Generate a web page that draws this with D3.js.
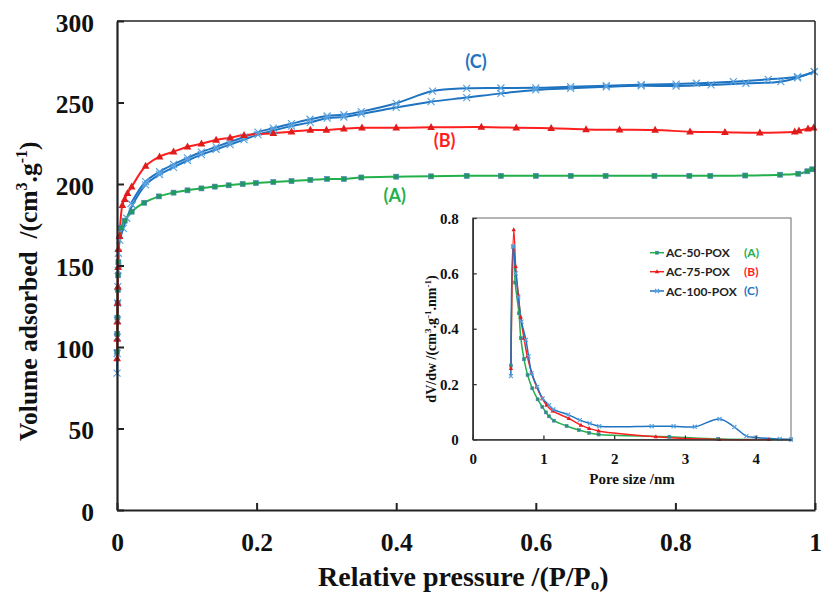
<!DOCTYPE html>
<html>
<head>
<meta charset="utf-8">
<script src="https://cdn.jsdelivr.net/npm/d3@7"></script>
<style>
  html, body { margin: 0; padding: 0; background: #fff; }
  svg { display: block; }
  text { white-space: pre; }
</style>
</head>
<body>
<svg id="chart" width="822" height="594"></svg>
<script>
// ---- Nitrogen isotherms (main panel) ----
const pressA = [0.0002,0.0004,0.0006,0.0009,0.0012,0.0016,0.002,0.0057,0.011,0.021,0.039,0.06,0.081,0.101,0.121,0.14,0.16,0.18,0.199,0.224,0.25,0.277,0.301,0.325,0.35,0.4,0.45,0.501,0.55,0.6,0.65,0.70,0.77,0.82,0.85,0.90,0.95,0.976,0.989,0.996];
const volA   = [97,108,118,127,135,144,152,173,177.5,183,188.5,192.4,194.7,196.1,197.3,198.4,199.2,200,200.6,201.2,201.8,202.5,203.1,203.1,204,204.5,204.7,205,205,205,205,205,205,205,205,205.2,205.7,206.3,207.8,209];

const pressB = [0.0002,0.0004,0.0006,0.0009,0.0012,0.0016,0.002,0.0035,0.0076,0.011,0.015,0.021,0.041,0.061,0.081,0.101,0.121,0.142,0.162,0.182,0.224,0.25,0.277,0.3,0.325,0.351,0.4,0.45,0.522,0.572,0.622,0.672,0.72,0.771,0.821,0.871,0.921,0.971,0.977,0.99,0.998];
const volB   = [93,105,115.5,127,137,149,160,168,187,190.6,194.3,198.3,211,216.8,219.8,222.9,224.7,227,228.4,230,231.1,232.1,233.1,233.1,233.9,234.5,234.5,234.8,235,234.5,234.2,233.5,233.3,233.1,232.1,231.8,231.5,232.1,232.7,233.9,234.5];

// sample C: adsorption branch
const pressC = [0.0001,0.0002,0.0004,0.0006,0.0009,0.0012,0.0016,0.002,0.004,0.009,0.014,0.022,0.041,0.061,0.081,0.101,0.121,0.142,0.162,0.182,0.202,0.224,0.25,0.277,0.301,0.325,0.35,0.4,0.45,0.501,0.55,0.6,0.65,0.701,0.751,0.801,0.851,0.901,0.951,0.975,0.999];
const volC   = [84,96,106,116.5,127,137,147,157.5,165.6,172.8,179,187,199.5,205.8,210.2,214.4,218,221.2,224.2,227.2,230.3,232.8,235.5,237.8,240.4,241.1,243,247,250.5,253,255.6,257.7,258.7,259.6,260.2,260.1,260.8,261.8,262.8,265.2,268.9];
// sample C: desorption branch
const pressCd = [0.02,0.041,0.061,0.081,0.101,0.121,0.142,0.162,0.182,0.202,0.224,0.25,0.2765,0.301,0.325,0.35,0.4,0.452,0.501,0.55,0.6,0.65,0.701,0.751,0.801,0.83,0.883,0.933,0.975,0.999];
const volCd   = [188,201.5,207.5,212,216,219.6,222.8,225.8,228.8,231.8,234.3,237,239.7,241.7,242.5,244.4,249.5,257,258.7,258.9,259,259.7,260.3,260.9,261.3,261.8,262.8,264.2,265.8,268.9];

const mainXTicks = [0,0.2,0.4,0.6,0.8,1];
const mainYTicks = [0,50,100,150,200,250,300];
const curveLabels = ["(A)","(B)","(C)"];

// ---- Pore size distribution (inset) ----
const poreA = [0.54,0.574,0.6,0.654,0.68,0.725,0.776,0.842,0.918,0.984,1.035,1.078,1.148,1.327,1.5,1.647,1.78,2.78,3.47,4.5];
const dvA   = [0.267,0.697,0.567,0.456,0.366,0.29,0.233,0.185,0.145,0.118,0.098,0.084,0.068,0.049,0.034,0.024,0.018,0.01,0.002,0.0];
const poreB = [0.54,0.58,0.607,0.645,0.678,0.725,0.772,0.833,0.904,0.984,1.045,1.13,1.36,1.53,1.647,1.78,2.59,3.49,4.19];
const dvB   = [0.257,0.758,0.625,0.522,0.442,0.366,0.3,0.241,0.19,0.148,0.124,0.103,0.076,0.052,0.04,0.031,0.01,0.0,0.0];
const poreC = [0.54,0.57,0.61,0.645,0.69,0.753,0.79,0.833,0.913,0.988,1.08,1.14,1.35,1.515,1.656,1.788,2.53,2.84,3.14,3.49,3.7,3.87,4.0,4.34,4.5];
const dvC   = [0.229,0.697,0.6,0.516,0.426,0.36,0.3,0.239,0.19,0.148,0.124,0.109,0.09,0.07,0.058,0.048,0.048,0.048,0.046,0.074,0.045,0.012,0.007,0.002,0.0];

const insetXTicks = [0,1,2,3,4];
const insetYTicks = [0,0.2,0.4,0.6,0.8];
const legendNames = ["AC-50-POX","AC-75-POX","AC-100-POX"];

const GREEN = "#22b04b", RED = "#ff1f1f", BLUE = "#1f74c2";
const GREEN_MK = "#1e9a5c", RED_MK = "#e01b1b", BLUE_MK = "#5aa2de";
const SERIF = "'Liberation Serif','Times New Roman',serif";
const SANS = "Lato,'Open Sans',sans-serif";

const svg = d3.select("#chart");

// ---------- main panel ----------
const L = 117, T = 21, R = 815, B = 510;
const x = d3.scaleLinear().domain([0,1]).range([L,R]);
const y = d3.scaleLinear().domain([0,300]).range([B,T]);

const g = svg.append("g");

const zip = (xs, ys) => xs.map((v,i) => [v, ys[i]]);
const lineMain = d3.line().x(d => x(d[0])).y(d => y(d[1])).curve(d3.curveCatmullRom.alpha(0.5));

function drawMarkers(sel, pts, kind, color, sx, sy, s) {
  const gg = sel.append("g");
  pts.forEach(p => {
    const cx = sx(p[0]), cy = sy(p[1]);
    if (kind === "square") {
      gg.append("rect").attr("x", cx - s/2).attr("y", cy - s/2).attr("width", s).attr("height", s)
        .attr("fill", color).attr("stroke", "#4f7fbf").attr("stroke-width", 0.6);
    } else if (kind === "tri") {
      const h = s;
      gg.append("path").attr("d", `M${cx},${cy - h*0.6}L${cx + h*0.55},${cy + h*0.4}L${cx - h*0.55},${cy + h*0.4}Z`)
        .attr("fill", color);
    } else {
      const r = s/2;
      gg.append("path").attr("d", `M${cx-r},${cy-r}L${cx+r},${cy+r}M${cx-r},${cy+r}L${cx+r},${cy-r}`)
        .attr("stroke", color).attr("stroke-width", 1.2).attr("fill", "none");
    }
  });
}

const sets = [
  {pts: zip(pressCd, volCd), color: BLUE, mk: "cross", mc: BLUE_MK, s: 7},
  {pts: zip(pressC, volC), color: BLUE, mk: "cross", mc: BLUE_MK, s: 7},
  {pts: zip(pressA, volA), color: GREEN, mk: "square", mc: GREEN_MK, s: 5},
  {pts: zip(pressB, volB), color: RED, mk: "tri", mc: RED_MK, s: 7},
];
sets.forEach(st => {
  g.append("path").attr("d", lineMain(st.pts)).attr("fill", "none")
    .attr("stroke", st.color).attr("stroke-width", 2);
});
sets.forEach(st => drawMarkers(g, st.pts, st.mk, st.mc, x, y, st.s));

// frame
g.append("line").attr("x1", L).attr("x2", R).attr("y1", T).attr("y2", T).attr("stroke", "#222").attr("stroke-width", 1.5);
g.append("line").attr("x1", R).attr("x2", R).attr("y1", T).attr("y2", B).attr("stroke", "#222").attr("stroke-width", 1.5);

const xAxis = g.append("g").attr("transform", `translate(0,${B})`)
  .call(d3.axisBottom(x).tickValues(mainXTicks).tickSizeInner(-7).tickSizeOuter(0).tickFormat(d3.format("")));
const yAxis = g.append("g").attr("transform", `translate(${L},0)`)
  .call(d3.axisLeft(y).tickValues(mainYTicks).tickSizeInner(-7).tickSizeOuter(0).tickFormat(d3.format("")));
[xAxis, yAxis].forEach(a => {
  a.select(".domain").attr("stroke", "#222").attr("stroke-width", 2.2);
  a.selectAll(".tick line").attr("stroke", "#222").attr("stroke-width", 2);
  a.selectAll(".tick text").attr("font-family", SERIF).attr("font-weight", "bold")
    .attr("font-size", 25.5).attr("fill", "#111");
});
xAxis.selectAll(".tick text").attr("y", 41).attr("dy", 0);
yAxis.selectAll(".tick text").attr("x", -23).attr("dy", 10);

// axis titles
const xt = svg.append("text").attr("x", 318).attr("y", 586)
  .attr("font-family", SERIF).attr("font-weight", "bold").attr("font-size", 28).attr("fill", "#111");
xt.append("tspan").text("Relative pressure /(P/P");
xt.append("tspan").attr("font-size", 17).attr("dy", 4).text("o");
xt.append("tspan").attr("dy", -4).text(")");

const yt = svg.append("text").attr("transform", "translate(37,441) rotate(-90)")
  .attr("font-family", SERIF).attr("font-weight", "bold").attr("font-size", 25.5).attr("fill", "#111");
yt.append("tspan").text("Volume adsorbed  /(cm");
yt.append("tspan").attr("font-size", 16).attr("dy", -10).text("3");
yt.append("tspan").attr("dy", 10).text(".g");
yt.append("tspan").attr("font-size", 16).attr("dy", -10).text("-1");
yt.append("tspan").attr("dy", 10).text(")");

// curve labels
const labelPos = [[394.7,195,GREEN],[444.7,140,RED],[476,61,BLUE]];
curveLabels.forEach((t,i) => {
  svg.append("text").attr("x", labelPos[i][0]).attr("y", labelPos[i][1] + 6.5).attr("text-anchor", "middle")
    .attr("font-family", SANS).attr("font-weight", "bold").attr("font-size", 18)
    .attr("fill", labelPos[i][2]).text(t);
});

// ---------- inset ----------
const iL = 472.7, iR = 791, iT = 218, iB = 439.5;
const ix = d3.scaleLinear().domain([0,4.5]).range([iL,iR]);
const iy = d3.scaleLinear().domain([0,0.8]).range([iB,iT]);
const ig = svg.append("g");

ig.append("rect").attr("x", iL).attr("y", iT).attr("width", iR - iL).attr("height", iB - iT)
  .attr("fill", "#fff").attr("stroke", "#6b6b6b").attr("stroke-width", 1);

const lineIn = d3.line().x(d => ix(d[0])).y(d => iy(d[1])).curve(d3.curveCatmullRom.alpha(0.5));
const isets = [
  {pts: zip(poreA, dvA), color: GREEN, mk: "square", mc: GREEN_MK, s: 3},
  {pts: zip(poreB, dvB), color: RED, mk: "tri", mc: RED_MK, s: 4},
  {pts: zip(poreC, dvC), color: BLUE, mk: "cross", mc: BLUE_MK, s: 4},
];
isets.forEach(st => {
  ig.append("path").attr("d", lineIn(st.pts)).attr("fill", "none")
    .attr("stroke", st.color).attr("stroke-width", 1.5);
});
isets.forEach(st => drawMarkers(ig, st.pts, st.mk, st.mc, ix, iy, st.s));

const ixAxis = ig.append("g").attr("transform", `translate(0,${iB})`)
  .call(d3.axisBottom(ix).tickValues(insetXTicks).tickSizeInner(-4).tickSizeOuter(0).tickFormat(d3.format("")));
const iyAxis = ig.append("g").attr("transform", `translate(${iL},0)`)
  .call(d3.axisLeft(iy).tickValues(insetYTicks).tickSizeInner(-4).tickSizeOuter(0).tickFormat(d => d === 0 ? "0" : d3.format(".1f")(d)));
[ixAxis, iyAxis].forEach(a => {
  a.select(".domain").attr("stroke", "#333").attr("stroke-width", 1.6);
  a.selectAll(".tick line").attr("stroke", "#333").attr("stroke-width", 1.3);
  a.selectAll(".tick text").attr("font-family", SERIF).attr("font-weight", "bold")
    .attr("font-size", 15).attr("fill", "#111");
});
ixAxis.selectAll(".tick text").attr("y", 24).attr("dy", 0);
iyAxis.selectAll(".tick text").attr("x", -14).attr("dy", 5);

svg.append("text").attr("x", 632).attr("y", 484).attr("text-anchor", "middle")
  .attr("font-family", SERIF).attr("font-weight", "bold").attr("font-size", 15).attr("fill", "#111")
  .text("Pore size /nm");

const iyt = svg.append("text").attr("transform", "translate(436,339) rotate(-90)").attr("text-anchor", "middle")
  .attr("font-family", SERIF).attr("font-weight", "bold").attr("font-size", 14).attr("fill", "#111");
iyt.append("tspan").text("dV/dw /(cm");
iyt.append("tspan").attr("font-size", 9).attr("dy", -5).text("3");
iyt.append("tspan").attr("dy", 5).text(".g");
iyt.append("tspan").attr("font-size", 9).attr("dy", -5).text("-1");
iyt.append("tspan").attr("dy", 5).text(".nm");
iyt.append("tspan").attr("font-size", 9).attr("dy", -5).text("-1");
iyt.append("tspan").attr("dy", 5).text(")");

// legend
const legY = [252.7, 271.7, 291];
const legMk = ["square","tri","cross"];
const legMc = [GREEN_MK, RED_MK, BLUE_MK];
const legCol = [GREEN, RED, BLUE];
legendNames.forEach((name, i) => {
  const yy = legY[i];
  ig.append("line").attr("x1", 650).attr("x2", 664).attr("y1", yy).attr("y2", yy)
    .attr("stroke", legCol[i]).attr("stroke-width", 1.5);
  drawMarkers(ig, [[657, yy]], legMk[i], legMc[i], d => d, d => d, legMk[i] === "square" ? 3 : 4);
  ig.append("text").attr("x", 666).attr("y", yy + 4.5)
    .attr("font-family", SANS).attr("font-weight", "bold").attr("font-size", 12).attr("fill", "#222").text(name);
  ig.append("text").attr("x", 744).attr("y", yy + 4)
    .attr("font-family", SANS).attr("font-weight", "bold").attr("font-size", 12).attr("fill", legCol[i]).text(curveLabels[i]);
});
</script>
</body>
</html>
